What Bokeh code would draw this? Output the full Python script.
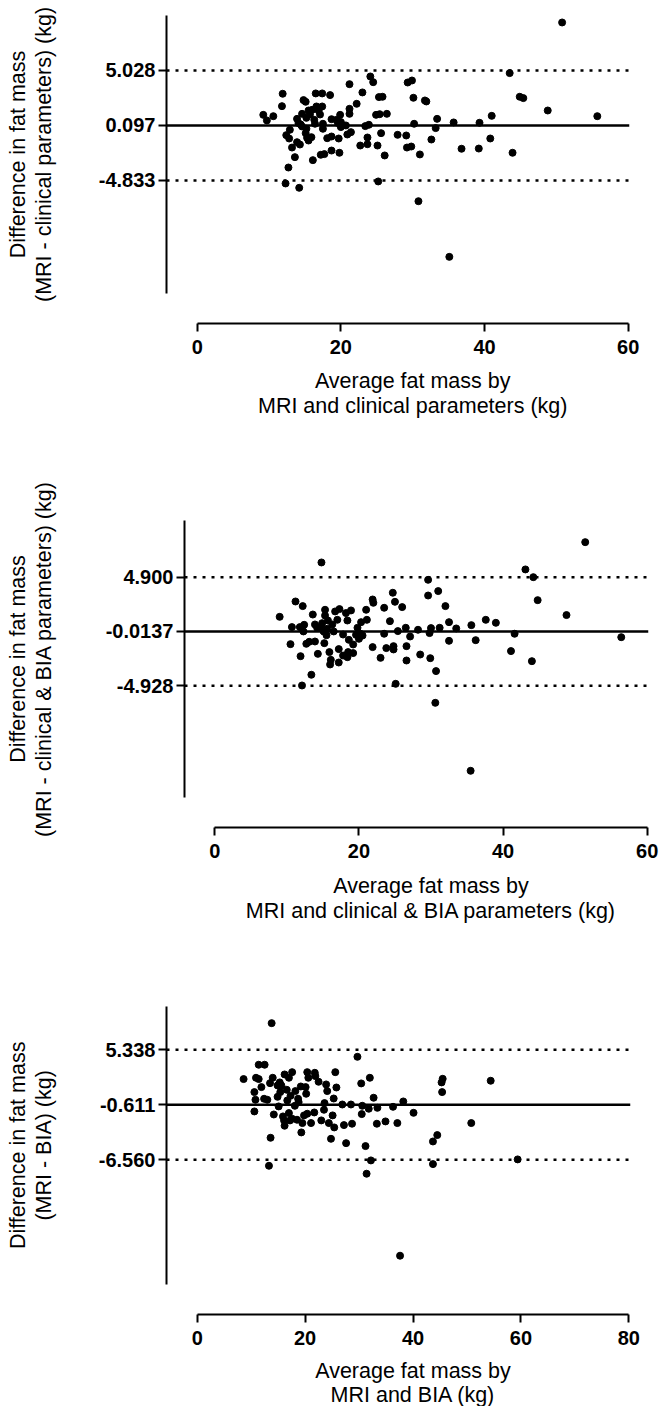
import math
from bokeh.plotting import figure
from bokeh.models import Range1d, FixedTicker, Span
from bokeh.layouts import column, row
from bokeh.core.properties import value
from bokeh.embed import file_html
from bokeh.resources import INLINE

FONT = "Liberation Sans"

# ---------------- Panel 1: MRI vs clinical parameters ----------------
p1_x = [50.8, 43.5, 24.1, 24.5, 29.3, 29.9, 21.2, 23.0, 11.9, 16.5, 17.4, 18.5, 14.8, 15.1,
        22.2, 25.3, 25.8, 30.1, 31.7, 31.9, 44.9, 45.4, 11.8, 48.8, 55.7, 9.2, 10.6, 9.7,
        16.6, 17.4, 16.0, 16.9, 15.7, 14.6, 17.1, 21.2, 21.2, 19.9, 24.9, 25.4, 26.4, 33.4,
        41.0, 13.9, 15.2, 16.3, 18.7, 19.4, 14.1, 16.4, 17.5, 19.6, 20.7, 23.4, 23.9, 30.2,
        35.7, 39.3, 14.6, 15.2, 17.5, 20.0, 33.2, 12.9, 12.4, 12.8, 15.1, 15.3, 15.9, 15.5,
        18.1, 18.7, 19.7, 20.9, 21.4, 23.7, 25.6, 27.9, 29.1, 32.6, 40.8, 13.9, 14.3, 13.2,
        13.6, 12.7, 22.7, 23.7, 25.1, 29.2, 29.8, 18.7, 19.8, 17.7, 17.2, 16.1, 26.1, 31.0,
        36.8, 39.2, 43.9, 12.3, 14.2, 25.2, 30.8, 35.1, 15.5, 20.0, 14.4]
p1_y = [9.33, 4.79, 4.49, 3.98, 3.95, 4.13, 3.80, 3.06, 2.94, 2.97, 2.97, 2.82, 2.37, 2.22,
        2.04, 2.64, 2.67, 2.58, 2.34, 2.25, 2.67, 2.55, 1.83, 1.44, 0.93, 1.05, 0.93, 0.55,
        1.80, 1.80, 1.50, 1.44, 1.08, 1.14, 1.08, 1.59, 1.14, 1.05, 1.05, 1.11, 1.14, 0.69,
        0.96, 0.69, 0.78, 0.60, 0.66, 0.60, 0.31, 0.25, 0.25, 0.31, 0.10, 0.04, 0.16, 0.25,
        0.37, 0.34, 0.01, -0.20, -0.20, -0.05, -0.14, -0.29, -0.77, -1.07, -0.59, -1.01, -0.95, -1.25,
        -1.04, -0.89, -1.07, -0.71, -0.50, -0.98, -0.59, -0.74, -0.80, -1.16, -1.07, -1.40, -1.61, -1.88,
        -2.74, -3.67, -1.70, -1.58, -1.70, -1.88, -1.79, -2.15, -2.35, -2.47, -2.53, -3.01, -2.59, -2.50,
        -1.99, -1.97, -2.35, -5.10, -5.49, -4.92, -6.69, -11.68, 1.44, 0.40, 0.19]
p1_mean, p1_upper, p1_lower = 0.097, 5.028, -4.833
p1_tick_text = ["5.028", "0.097", "-4.833"]
p1_xticks = [0, 20, 40, 60]
p1_ybounds = [-15, 10]
p1_xtitle = ["Average fat mass by", "MRI and clinical parameters (kg)"]
p1_ytitle = ["Difference in fat mass", "(MRI - clinical parameters) (kg)"]

# ---------------- Panel 2: MRI vs clinical & BIA parameters ----------------
p2_x = [51.4, 14.8, 43.1, 44.2, 29.6, 24.7, 31.0, 29.6, 44.8, 21.9, 22.0, 25.0, 26.0, 23.5,
        32.0, 11.2, 12.2, 9.0, 15.3, 16.7, 17.3, 18.9, 18.2, 13.6, 15.3, 21.0, 48.8, 15.7,
        17.0, 18.4, 21.1, 24.3, 20.3, 32.5, 35.6, 37.6, 39.0, 12.4, 13.9, 14.9, 16.3, 10.7,
        11.8, 14.2, 15.6, 19.8, 26.5, 28.2, 30.0, 31.2, 33.5, 12.3, 15.1, 16.5, 25.4, 29.8,
        41.6, 15.5, 17.8, 19.6, 20.5, 23.5, 27.1, 56.4, 18.6, 20.0, 10.5, 12.7, 13.1, 13.9,
        15.2, 19.2, 32.5, 36.2, 21.9, 23.8, 24.8, 24.8, 26.6, 17.2, 15.9, 11.9, 14.3, 18.5,
        19.2, 17.8, 18.4, 16.1, 16.0, 17.2, 23.0, 26.6, 28.5, 29.9, 30.7, 41.1, 44.0, 13.4,
        12.1, 25.1, 30.6, 35.5, 14.7, 20.2]
p2_y = [8.07, 6.23, 5.60, 4.90, 4.66, 3.49, 3.64, 3.24, 2.82, 2.88, 2.58, 2.67, 2.19, 2.13,
        2.28, 2.70, 2.28, 1.31, 1.95, 1.80, 2.01, 1.89, 1.65, 1.52, 1.43, 1.95, 1.47, 0.98,
        1.04, 0.98, 1.04, 0.92, 0.83, 0.83, 0.56, 1.04, 0.77, 0.59, 0.62, 0.74, 0.62, 0.38,
        0.38, 0.32, 0.23, 0.32, 0.32, 0.14, 0.29, 0.32, 0.26, -0.01, -0.01, -0.01, 0.02, -0.16,
        -0.22, -0.35, -0.29, -0.32, -0.38, -0.22, -0.47, -0.53, -0.77, -0.68, -1.16, -1.13, -0.95, -0.92,
        -1.07, -1.19, -0.86, -0.80, -1.43, -1.52, -1.34, -1.64, -1.34, -1.61, -1.88, -2.25, -2.04, -1.88,
        -1.97, -2.19, -2.34, -2.58, -3.00, -2.82, -2.40, -2.64, -2.10, -2.43, -3.60, -1.79, -2.70, -3.93,
        -4.90, -4.75, -6.47, -12.62, 0.38, -0.22]
p2_mean, p2_upper, p2_lower = -0.0137, 4.900, -4.928
p2_tick_text = ["4.900", "-0.0137", "-4.928"]
p2_xticks = [0, 20, 40, 60]
p2_ybounds = [-15, 10]
p2_xtitle = ["Average fat mass by", "MRI and clinical & BIA parameters (kg)"]
p2_ytitle = ["Difference in fat mass", "(MRI - clinical & BIA parameters) (kg)"]

# ---------------- Panel 3: MRI vs BIA ----------------
p3_x = [13.8, 29.7, 11.4, 12.5, 8.6, 10.9, 11.4, 14.0, 16.2, 17.6, 17.0, 20.4, 21.8, 20.6,
        21.9, 25.6, 32.0, 30.4, 45.5, 45.3, 45.4, 54.4, 13.5, 15.3, 15.6, 22.5, 23.9, 11.9,
        19.2, 20.1, 25.8, 10.6, 16.6, 14.9, 17.3, 20.2, 24.1, 10.8, 12.4, 13.0, 16.7, 18.7,
        25.3, 32.7, 38.2, 15.1, 18.1, 23.6, 26.9, 28.5, 30.6, 31.8, 33.4, 36.3, 23.5, 10.6,
        14.2, 17.0, 30.5, 25.1, 40.1, 15.9, 17.6, 18.5, 20.4, 21.7, 23.0, 16.2, 19.5, 21.1,
        24.4, 25.4, 27.2, 28.7, 33.3, 34.9, 37.1, 50.8, 19.3, 13.6, 24.8, 27.6, 31.2, 44.5,
        43.7, 13.3, 32.2, 43.7, 59.4, 31.4, 37.6, 14.9, 15.4, 18.2, 18.8, 16.1, 19.8, 17.2]
p3_y = [8.22, 4.58, 3.72, 3.72, 2.17, 2.31, 2.17, 2.31, 2.67, 2.92, 2.31, 2.92, 2.85, 2.31,
        2.49, 2.92, 2.31, 1.70, 2.20, 1.81, 0.76, 1.99, 1.73, 1.81, 1.48, 1.88, 1.59, 1.30,
        1.37, 1.30, 1.26, 0.76, 1.01, 0.25, 0.36, 0.58, 0.87, -0.07, 0.04, -0.07, -0.14, 0.04,
        0.07, 0.15, -0.25, -0.79, -0.72, -0.43, -0.58, -0.58, -0.72, -1.04, -0.94, -0.83, -1.15, -1.33,
        -1.66, -1.51, -1.62, -1.76, -1.48, -1.87, -2.12, -2.23, -1.58, -1.44, -2.30, -2.88, -2.59, -2.59,
        -2.59, -3.06, -2.81, -2.66, -2.66, -2.41, -2.59, -2.59, -3.60, -4.18, -4.29, -4.76, -5.08, -3.89,
        -4.58, -7.21, -6.63, -7.03, -6.52, -8.07, -16.94, 1.48, 0.76, 0.87, -0.32, -2.30, -1.76, -2.30]
p3_mean, p3_upper, p3_lower = -0.611, 5.338, -6.560
p3_tick_text = ["5.338", "-0.611", "-6.560"]
p3_xticks = [0, 20, 40, 60, 80]
p3_ybounds = [-20, 10]
p3_xtitle = ["Average fat mass by", "MRI and BIA (kg)"]
p3_ytitle = ["Difference in fat mass", "(MRI - BIA) (kg)"]

W = 660          # total page width used
WY = 60          # width of the y-title strip
TITLE_SIZE = "21.5px"


def blank_fig(w, h):
    f = figure(width=w, height=h, x_range=Range1d(0, w), y_range=Range1d(0, h),
               output_backend="svg", toolbar_location=None,
               x_axis_location=None, y_axis_location=None,
               min_border_left=0, min_border_right=0, min_border_top=0, min_border_bottom=0,
               frame_align=False)
    f.outline_line_color = None
    f.grid.visible = False
    f.background_fill_color = "white"
    f.border_fill_color = "white"
    return f


def make_panel(xs, ys, mean, upper, lower, tick_text, xticks, ybounds, xtitle, ytitle, geo):
    row_top, row_bot, xt_bot = geo["rows"]
    fl, fr, ft, fb = geo["frame"]
    (xa, xa_pg), (xb, xb_pg) = geo["xref"]
    (ya, ya_pg), (yb, yb_pg) = geo["yref"]
    kx = (xb_pg - xa_pg) / (xb - xa)
    ky = (ya_pg - yb_pg) / (yb - ya)

    def dx(px):
        return xa + (px - xa_pg) / kx

    def dy(py):
        return ya - (py - ya_pg) / ky

    def py_of(yv):
        return ya_pg - (yv - ya) * ky

    def px_of(xv):
        return xa_pg + (xv - xa) * kx

    H = row_bot - row_top
    wm = W - WY
    p = figure(width=wm, height=H,
               x_range=Range1d(dx(fl), dx(fr)), y_range=Range1d(dy(fb), dy(ft)),
               output_backend="svg", toolbar_location=None,
               min_border_left=fl - WY, min_border_right=W - fr,
               min_border_top=ft - row_top, min_border_bottom=row_bot - fb,
               frame_align=False)
    p.outline_line_color = None
    p.grid.visible = False
    p.background_fill_color = "white"
    p.border_fill_color = "white"

    for loc, dash in [(mean, "solid"), (upper, "3 6"), (lower, "3 6")]:
        p.add_layout(Span(location=loc, dimension="width", line_color="black",
                          line_width=2.5, line_dash=dash))

    p.scatter(xs, ys, size=7, color="black", line_color="black")

    xax = p.xaxis[0]
    xax.bounds = (xticks[0], xticks[-1])
    xax.ticker = FixedTicker(ticks=xticks, minor_ticks=[])
    yax = p.yaxis[0]
    yax.bounds = tuple(ybounds)
    yax.ticker = FixedTicker(ticks=[upper, mean, lower], minor_ticks=[])
    yax.major_label_overrides = {upper: tick_text[0], mean: tick_text[1], lower: tick_text[2]}
    for ax in (xax, yax):
        ax.axis_line_width = 2
        ax.axis_line_color = "black"
        ax.major_tick_line_width = 2
        ax.major_tick_line_color = "black"
        ax.major_tick_out = 8
        ax.major_tick_in = 0
        ax.minor_tick_out = 0
        ax.minor_tick_in = 0
        ax.major_label_text_font = FONT
        ax.major_label_text_font_style = "bold"
        ax.major_label_text_font_size = "20px"
        ax.major_label_text_color = "black"
    xax.major_label_standoff = 8
    yax.major_label_standoff = 3

    # y-title strip (text drawn in its own small canvas)
    yt = blank_fig(WY, H)
    ymid_pg = py_of((ybounds[0] + ybounds[1]) / 2) - row_top
    yt.text(x=list(geo["ytitle_base"]), y=[H - ymid_pg] * 2, text=ytitle,
            angle=math.pi / 2, text_align="center", text_baseline="alphabetic",
            text_font=value(FONT), text_font_size=value(TITLE_SIZE), text_color="black")

    # x-title strip
    HX = xt_bot - row_bot
    xt = blank_fig(W, HX)
    xmid_pg = px_of((xticks[0] + xticks[-1]) / 2)
    xt.text(x=[xmid_pg] * 2, y=[HX - (b - row_bot) for b in geo["xtitle_base"]], text=xtitle,
            text_align="center", text_baseline="alphabetic",
            text_font=value(FONT), text_font_size=value(TITLE_SIZE), text_color="black")

    return column(row(yt, p, spacing=0), xt, spacing=0)


geo1 = dict(rows=(0, 370, 450), frame=(166, 629, 15, 323),
            xref=((0, 196.7), (60, 627.7)), yref=((-15, 293.4), (10, 14.5)),
            xtitle_base=(380, 405), ytitle_base=(17, 43.5))
geo2 = dict(rows=(450, 872, 960), frame=(184, 648, 520, 827),
            xref=((0, 214.3), (60, 646.7)), yref=((-15, 796.6), (10, 520.3)),
            xtitle_base=(885, 910), ytitle_base=(17, 43.5))
geo3 = dict(rows=(960, 1358, 1406), frame=(166, 630, 1006, 1314),
            xref=((0, 196.7), (80, 628.3)), yref=((-20, 1283.5), (10, 1006.2)),
            xtitle_base=(1370, 1394), ytitle_base=(17, 43.5))

f1 = make_panel(p1_x, p1_y, p1_mean, p1_upper, p1_lower, p1_tick_text, p1_xticks,
                p1_ybounds, p1_xtitle, p1_ytitle, geo1)
f2 = make_panel(p2_x, p2_y, p2_mean, p2_upper, p2_lower, p2_tick_text, p2_xticks,
                p2_ybounds, p2_xtitle, p2_ytitle, geo2)
f3 = make_panel(p3_x, p3_y, p3_mean, p3_upper, p3_lower, p3_tick_text, p3_xticks,
                p3_ybounds, p3_xtitle, p3_ytitle, geo3)

layout = column(f1, f2, f3, spacing=0)
open("out.html", "w").write(file_html(layout, INLINE))
